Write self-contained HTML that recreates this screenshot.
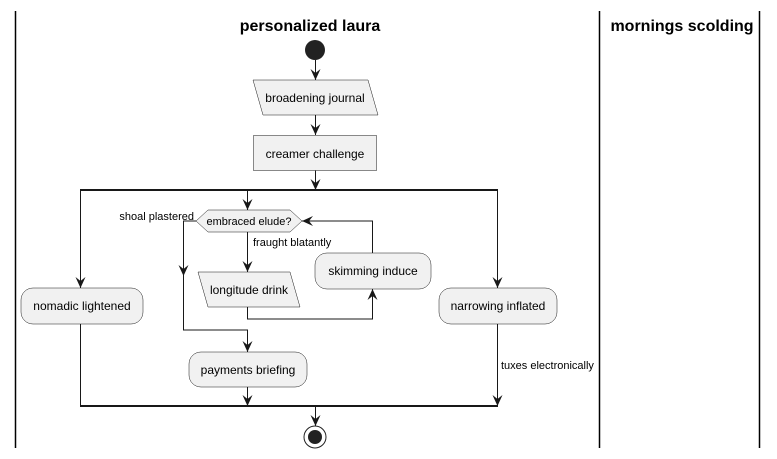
<!DOCTYPE html>
<html><head><meta charset="utf-8"><style>
html,body{margin:0;padding:0;background:#fff;width:777px;height:459px;overflow:hidden}
svg{display:block}
text{font-family:"Liberation Sans",sans-serif;fill:#000}
</style></head><body>
<svg width="777" height="459" viewBox="0 0 777 459" xmlns="http://www.w3.org/2000/svg">
<g stroke="#000" stroke-width="1.5">
<line x1="15.5" y1="11" x2="15.5" y2="448"/>
<line x1="599.5" y1="11" x2="599.5" y2="448"/>
<line x1="759.5" y1="11" x2="759.5" y2="448"/>
</g>
<text x="310" y="31" font-size="16" font-weight="bold" text-anchor="middle">personalized laura</text>
<text x="682" y="31" font-size="16" font-weight="bold" text-anchor="middle">mornings scolding</text>

<g fill="none" stroke="#181818" stroke-width="1">
<line x1="315.5" y1="60" x2="315.5" y2="80"/>
<line x1="315.5" y1="115" x2="315.5" y2="135"/>
<line x1="315.5" y1="170" x2="315.5" y2="189"/>
<polyline points="80.5,288 80.5,190 497.5,190 497.5,288"/>
<line x1="247.5" y1="190" x2="247.5" y2="210"/>
<line x1="247.5" y1="232" x2="247.5" y2="272"/>
<polyline points="196,221 183.5,221 183.5,330 247.5,330 247.5,352"/>
<polyline points="247.5,307 247.5,319 372.5,319 372.5,289"/>
<polyline points="372.5,253 372.5,221 302,221"/>
<polyline points="80.5,324 80.5,406"/>
<line x1="247.5" y1="387" x2="247.5" y2="406"/>
<line x1="497.5" y1="324" x2="497.5" y2="406"/>
<line x1="315.5" y1="406" x2="315.5" y2="426"/>
</g>
<g stroke="#181818" stroke-width="2">
<line x1="80" y1="190" x2="498" y2="190"/>
<line x1="80" y1="406" x2="498" y2="406"/>
</g>

<g fill="#181818">
<path d="M315.5,80 l-5,-11 l5,4 l5,-4z"/>
<path d="M315.5,135 l-5,-11 l5,4 l5,-4z"/>
<path d="M315.5,190 l-5,-11 l5,4 l5,-4z"/>
<path d="M80.5,288 l-5,-11 l5,4 l5,-4z"/>
<path d="M247.5,210 l-5,-11 l5,4 l5,-4z"/>
<path d="M497.5,288 l-5,-11 l5,4 l5,-4z"/>
<path d="M247.5,272 l-5,-11 l5,4 l5,-4z"/>
<path d="M183.5,276 l-5,-11 l5,4 l5,-4z"/>
<path d="M247.5,352 l-5,-11 l5,4 l5,-4z"/>
<path d="M372.5,289 l-5,11 l5,-4 l5,4z"/>
<path d="M302,221 l11,-5 l-4,5 l4,5z"/>
<path d="M247.5,406 l-5,-11 l5,4 l5,-4z"/>
<path d="M497.5,406 l-5,-11 l5,4 l5,-4z"/>
<path d="M315.5,426 l-5,-11 l5,4 l5,-4z"/>
</g>

<circle cx="315" cy="50" r="10" fill="#222"/>
<circle cx="315" cy="437" r="11" fill="none" stroke="#222" stroke-width="1"/>
<circle cx="315" cy="437" r="7" fill="#222"/>

<g fill="#f1f1f1" stroke="#181818" stroke-width="0.5">
<polygon points="253,80 368,80 378,115 263,115"/>
<rect x="253.5" y="135.5" width="123" height="35"/>
<polygon points="208,210 290,210 302,221 290,232 208,232 196,221"/>
<polygon points="198,272 290,272 300,307 208,307"/>
<rect x="315" y="253" width="116" height="36" rx="12"/>
<rect x="21" y="288" width="122" height="36" rx="12"/>
<rect x="439" y="288" width="118" height="36" rx="12"/>
<rect x="189" y="352" width="118" height="35" rx="12"/>
</g>

<g font-size="12">
<text x="315" y="102" text-anchor="middle">broadening journal</text>
<text x="315" y="158" text-anchor="middle">creamer challenge</text>
<text x="249" y="225" text-anchor="middle" font-size="11">embraced elude?</text>
<text x="249" y="294" text-anchor="middle">longitude drink</text>
<text x="373" y="275" text-anchor="middle">skimming induce</text>
<text x="82" y="310" text-anchor="middle">nomadic lightened</text>
<text x="498" y="310" text-anchor="middle">narrowing inflated</text>
<text x="248" y="374" text-anchor="middle">payments briefing</text>
</g>
<g font-size="11">
<text x="194" y="220" text-anchor="end">shoal plastered</text>
<text x="253" y="246">fraught blatantly</text>
<text x="501" y="369">tuxes electronically</text>
</g>
</svg>
</body></html>
